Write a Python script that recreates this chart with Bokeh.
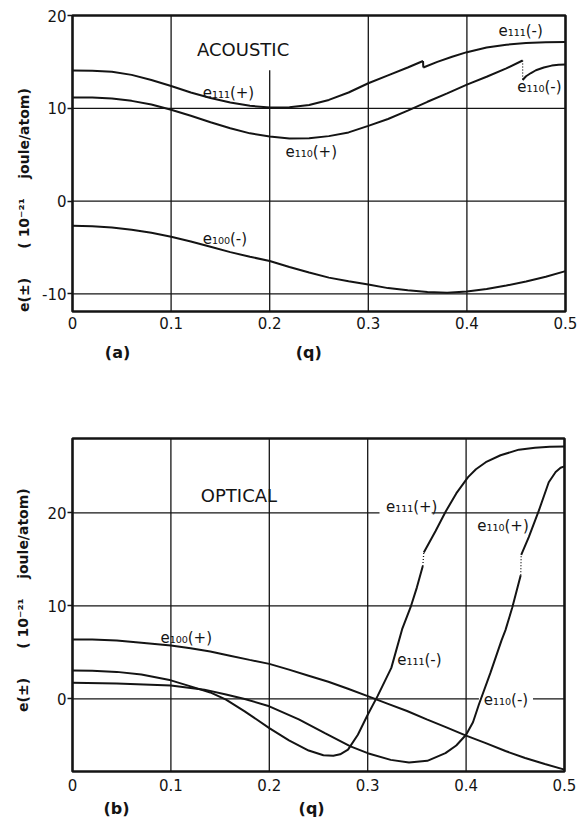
import math
from bokeh.plotting import figure
from bokeh.layouts import column
from bokeh.models import Label, FixedTicker, Range1d, LinearAxis
from bokeh.embed import file_html
from bokeh.resources import INLINE

# ---------------- DATA ----------------
q_ticks = [0, 0.1, 0.2, 0.3, 0.4, 0.5]
q_tick_labels = ["0", "0.1", "0.2", "0.3", "0.4", "0.5"]
ac_e_ticks = [-10, 0, 10, 20]
ac_e_tick_labels = ["-10", "0", "10", "20"]
op_e_ticks = [0, 10, 20]
op_e_tick_labels = ["0", "10", "20"]

# (a) ACOUSTIC
ac_q_e111p = [0, 0.02, 0.04, 0.06, 0.08, 0.1, 0.12, 0.14, 0.16, 0.18, 0.2, 0.22, 0.24, 0.26, 0.28, 0.3, 0.32, 0.34, 0.3555]
ac_e_e111p = [14.06, 14.05, 13.93, 13.6, 13.05, 12.4, 11.7, 11.1, 10.62, 10.27, 10.08, 10.1, 10.35, 10.9, 11.7, 12.7, 13.55, 14.4, 15.1]
ac_q_e111m = [0.3558, 0.37, 0.385, 0.4, 0.42, 0.44, 0.46, 0.48, 0.5]
ac_e_e111m = [14.4, 15.0, 15.55, 16.05, 16.55, 16.85, 17.03, 17.12, 17.15]
ac_q_e110p = [0, 0.02, 0.04, 0.06, 0.08, 0.1, 0.12, 0.14, 0.16, 0.18, 0.2, 0.22, 0.24, 0.26, 0.28, 0.3, 0.32, 0.34, 0.36, 0.38, 0.4, 0.42, 0.44, 0.4565]
ac_e_e110p = [11.15, 11.15, 11.05, 10.8, 10.4, 9.85, 9.2, 8.5, 7.85, 7.3, 6.95, 6.75, 6.78, 7.0, 7.4, 8.1, 8.85, 9.75, 10.7, 11.6, 12.55, 13.4, 14.3, 15.15]
ac_q_e110m = [0.4565, 0.46, 0.465, 0.47, 0.478, 0.486, 0.493, 0.5]
ac_e_e110m = [13.05, 13.45, 13.8, 14.1, 14.4, 14.6, 14.7, 14.72]
ac_q_e100m = [0, 0.02, 0.04, 0.06, 0.08, 0.1, 0.12, 0.14, 0.16, 0.18, 0.2, 0.22, 0.24, 0.26, 0.28, 0.3, 0.32, 0.34, 0.36, 0.38, 0.4, 0.42, 0.44, 0.46, 0.48, 0.5]
ac_e_e100m = [-2.66, -2.7, -2.86, -3.1, -3.42, -3.85, -4.35, -4.92, -5.5, -6.0, -6.45, -7.1, -7.7, -8.25, -8.65, -9.0, -9.38, -9.62, -9.8, -9.88, -9.75, -9.48, -9.1, -8.67, -8.15, -7.55]

# (b) OPTICAL
op_q_e100p = [0, 0.02, 0.045, 0.07, 0.1, 0.12, 0.14, 0.16, 0.18, 0.2, 0.22, 0.24, 0.26, 0.28, 0.3, 0.32, 0.34, 0.36, 0.38, 0.4, 0.42, 0.44, 0.46, 0.48, 0.5]
op_e_e100p = [6.39, 6.38, 6.28, 6.05, 5.75, 5.45, 5.1, 4.65, 4.2, 3.77, 3.15, 2.5, 1.85, 1.1, 0.3, -0.5, -1.3, -2.2, -3.05, -3.95, -4.75, -5.6, -6.35, -7.0, -7.6]
op_q_e111m = [0, 0.02, 0.045, 0.07, 0.1, 0.12, 0.14, 0.156, 0.175, 0.2, 0.22, 0.24, 0.255, 0.265, 0.272, 0.28, 0.29, 0.3, 0.31, 0.324, 0.335, 0.3436, 0.35, 0.356]
op_e_e111m = [3.06, 3.03, 2.91, 2.62, 2.0, 1.35, 0.7, -0.07, -1.33, -3.13, -4.45, -5.55, -6.05, -6.1, -5.95, -5.45, -3.85, -1.7, 0.3, 3.34, 7.5, 9.86, 12.0, 14.3]
op_q_e111p = [0.357, 0.369, 0.379, 0.39, 0.402, 0.41, 0.42, 0.435, 0.4536, 0.47, 0.485, 0.5]
op_e_e111p = [15.75, 18.06, 20.1, 22.1, 23.85, 24.7, 25.45, 26.2, 26.8, 27.0, 27.1, 27.15]
op_q_e110m = [0, 0.045, 0.1, 0.134, 0.156, 0.175, 0.2, 0.23, 0.2565, 0.2825, 0.3, 0.3234, 0.342, 0.3606, 0.379, 0.39, 0.4, 0.407, 0.413, 0.4247, 0.436, 0.44, 0.447, 0.4555]
op_e_e110m = [1.73, 1.65, 1.44, 1.0, 0.47, 0.0, -0.79, -2.2, -3.67, -5.1, -5.83, -6.55, -6.83, -6.65, -5.83, -5.0, -3.85, -2.5, -0.6, 2.8, 6.3, 7.4, 9.85, 13.3]
op_q_e110p = [0.456, 0.4637, 0.474, 0.484, 0.491, 0.496, 0.5]
op_e_e110p = [15.5, 17.4, 20.27, 23.3, 24.4, 24.85, 25.0]

# grid lines (gaps where the original interrupts them)
ac_vgrid_q = [0.1, 0.2, 0.3, 0.4]
ac_vgrid_top = [20, 14.1, 20, 20]
ac_hgrid_e = [-10, 0, 10]
op_vgrid_q = [0.1, 0.2, 0.3, 0.4]
op_hgrid_e = [20, 20, 10, 0, 0]
op_hgrid_from = [0, 0.365, 0, 0, 0.468]
op_hgrid_to = [0.312, 0.5, 0.5, 0.413, 0.5]

# panel tags shown under each panel
ac_tag_q = [0.0457, 0.2396]
ac_tag_text = ["(a)", "(q)"]
op_tag_q = [0.0447, 0.243]
op_tag_text = ["(b)", "(q)"]

FONT = "DejaVu Sans"
INK = "#141414"
NB = "\u00a0"
Y_LABEL = "e(\u00b1)" + NB * 6 + "( 10\u207b\u00b2\u00b9" + NB * 4 + "joule/atom)"


def make_fig(yr, fw, fh, bl, br, bt, bb, yticks, ylabels, x_standoff, ylab, ylab_standoff,
             tag_q, tag_text, tag_standoff):
    p = figure(frame_width=fw, frame_height=fh,
               x_range=Range1d(0, 0.5), y_range=Range1d(*yr),
               output_backend="svg", toolbar_location=None,
               min_border_left=bl, min_border_right=br,
               min_border_top=bt, min_border_bottom=bb)
    p.background_fill_color = "white"
    p.border_fill_color = "white"
    p.outline_line_color = INK
    p.outline_line_width = 2.6
    p.xgrid.visible = False
    p.ygrid.visible = False
    p.xaxis.ticker = FixedTicker(ticks=q_ticks)
    p.xaxis.major_label_overrides = dict(zip(q_ticks, q_tick_labels))
    p.yaxis.ticker = FixedTicker(ticks=yticks)
    p.yaxis.major_label_overrides = dict(zip(yticks, ylabels))
    for ax in (p.xaxis[0], p.yaxis[0]):
        ax.axis_line_color = None
        ax.minor_tick_line_color = None
        ax.major_label_text_font = FONT
        ax.major_label_text_font_size = "15px"
        ax.major_label_text_color = INK
        ax.major_tick_in = 0
    p.xaxis.major_tick_line_color = None
    p.xaxis.major_tick_out = 0
    p.xaxis.major_label_standoff = x_standoff
    p.yaxis.major_tick_out = 5
    p.yaxis.major_tick_line_width = 1.3
    p.yaxis.major_tick_line_color = INK
    p.yaxis.major_label_standoff = 1
    p.yaxis.axis_label = ylab
    p.yaxis.axis_label_text_font = FONT
    p.yaxis.axis_label_text_font_size = "14px"
    p.yaxis.axis_label_text_font_style = "bold"
    p.yaxis.axis_label_text_color = INK
    p.yaxis.axis_label_standoff = ylab_standoff
    tag_axis = LinearAxis(ticker=FixedTicker(ticks=tag_q),
                          major_label_overrides=dict(zip(tag_q, tag_text)),
                          axis_line_color=None, major_tick_line_color=None,
                          minor_tick_line_color=None, major_tick_out=0, major_tick_in=0,
                          major_label_standoff=tag_standoff,
                          major_label_text_font=FONT, major_label_text_font_size="16px",
                          major_label_text_font_style="bold", major_label_text_color=INK)
    p.add_layout(tag_axis, "below")
    return p


def add_text(p, x, y, txt, size="15px"):
    p.add_layout(Label(x=x, y=y, text=txt, text_font=FONT, text_font_size=size,
                       text_color=INK, text_align="left", text_baseline="middle"))


def branch(p, qa, ea, qb, eb, dotted):
    p.line(qa, ea, line_color=INK, line_width=2.0)
    p.line(qb, eb, line_color=INK, line_width=2.0)
    if dotted:
        p.line([qa[-1], qb[0]], [ea[-1], eb[0]], line_color=INK, line_width=1.3, line_dash="1 2")
    else:
        p.line([qa[-1], qb[0]], [ea[-1], eb[0]], line_color=INK, line_width=2.0)


# ---------------- (a) ACOUSTIC ----------------
ac_ymin, ac_ymax = -11.9, 20
p1 = make_fig((ac_ymin, ac_ymax), 493, 296, 72, 12, 15, 69, ac_e_ticks, ac_e_tick_labels, 5,
              Y_LABEL + NB * 15, 7, ac_tag_q, ac_tag_text, 11)
p1.segment(x0=ac_vgrid_q, y0=[ac_ymin] * len(ac_vgrid_q), x1=ac_vgrid_q, y1=ac_vgrid_top,
           line_color=INK, line_width=1.3)
p1.segment(x0=[0] * len(ac_hgrid_e), y0=ac_hgrid_e, x1=[0.5] * len(ac_hgrid_e), y1=ac_hgrid_e,
           line_color=INK, line_width=1.3)
branch(p1, ac_q_e111p, ac_e_e111p, ac_q_e111m, ac_e_e111m, dotted=False)
branch(p1, ac_q_e110p, ac_e_e110p, ac_q_e110m, ac_e_e110m, dotted=True)
p1.line(ac_q_e100m, ac_e_e100m, line_color=INK, line_width=2.0)

add_text(p1, 0.1263, 16.3, "ACOUSTIC", size="18px")
add_text(p1, 0.132, 11.6, "e\u2081\u2081\u2081(+)")
add_text(p1, 0.216, 5.3, "e\u2081\u2081\u2080(+)")
add_text(p1, 0.132, -4.1, "e\u2081\u2080\u2080(-)")
add_text(p1, 0.432, 18.3, "e\u2081\u2081\u2081(-)")
add_text(p1, 0.451, 12.25, "e\u2081\u2081\u2080(-)")

# ---------------- (b) OPTICAL ----------------
op_ymin, op_ymax = -7.8, 28
p2 = make_fig((op_ymin, op_ymax), 492, 333, 67, 18, 58, 51, op_e_ticks, op_e_tick_labels, 7,
              NB * 2 + Y_LABEL, 13, op_tag_q, op_tag_text, 5)
p2.segment(x0=op_vgrid_q, y0=[op_ymin] * len(op_vgrid_q), x1=op_vgrid_q, y1=[op_ymax] * len(op_vgrid_q),
           line_color=INK, line_width=1.3)
p2.segment(x0=op_hgrid_from, y0=op_hgrid_e, x1=op_hgrid_to, y1=op_hgrid_e,
           line_color=INK, line_width=1.3)
p2.line(op_q_e100p, op_e_e100p, line_color=INK, line_width=2.0)
branch(p2, op_q_e111m, op_e_e111m, op_q_e111p, op_e_e111p, dotted=True)
branch(p2, op_q_e110m, op_e_e110m, op_q_e110p, op_e_e110p, dotted=True)

add_text(p2, 0.1304, 21.9, "OPTICAL", size="18px")
add_text(p2, 0.3185, 20.6, "e\u2081\u2081\u2081(+)")
add_text(p2, 0.4113, 18.6, "e\u2081\u2081\u2080(+)")
add_text(p2, 0.0894, 6.6, "e\u2081\u2080\u2080(+)")
add_text(p2, 0.330, 4.2, "e\u2081\u2081\u2081(-)")
add_text(p2, 0.418, -0.1, "e\u2081\u2081\u2080(-)")

layout = column(p1, p2, spacing=0)
open("out.html", "w").write(file_html(layout, INLINE))
